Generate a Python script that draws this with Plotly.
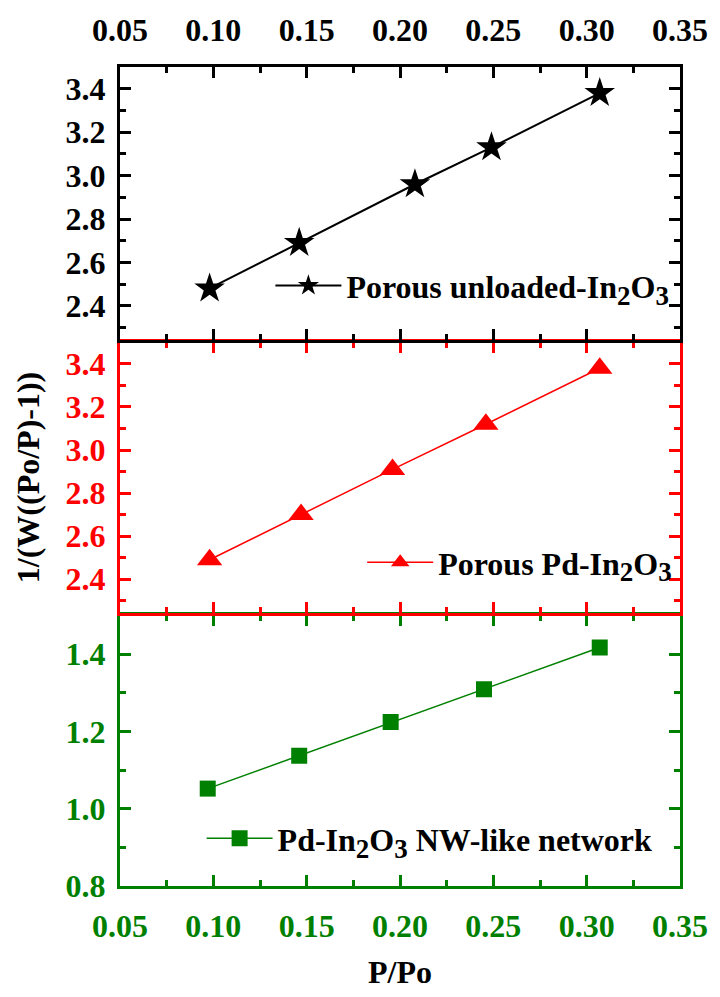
import plotly.graph_objects as go

# ---- data ----
x_unloaded = [0.098, 0.146, 0.208, 0.249, 0.307]
y_unloaded = [2.48, 2.69, 2.96, 3.13, 3.38]

x_pd = [0.098, 0.147, 0.196, 0.246, 0.307]
y_pd = [2.49, 2.70, 2.91, 3.12, 3.38]

x_nw = [0.097, 0.146, 0.195, 0.245, 0.307]
y_nw = [1.052, 1.137, 1.224, 1.309, 1.417]

SUB = '<sub><span style="font-size:27px">{}</span></sub>'
name_unloaded = "Porous unloaded-In" + SUB.format("2") + "O" + SUB.format("3")
name_pd = "Porous Pd-In" + SUB.format("2") + "O" + SUB.format("3")
name_nw = "Pd-In" + SUB.format("2") + "O" + SUB.format("3") + " NW-like network"

x_tickvals = [0.05, 0.10, 0.15, 0.20, 0.25, 0.30, 0.35]
x_ticktext = ["0.05", "0.10", "0.15", "0.20", "0.25", "0.30", "0.35"]

BLACK = "#000000"
RED = "#ff0000"
GREEN = "#008000"
FONT = "Liberation Serif"
FS = 32
LW = 3

fig = go.Figure()

# bottom panel (green) -> x/y, middle (red) -> x2/y2, top (black) -> x3/y3
fig.add_trace(go.Scatter(
    x=x_unloaded, y=y_unloaded, mode="lines+markers", name=name_unloaded,
    line=dict(color=BLACK, width=2),
    marker=dict(symbol="star", size=23, color=BLACK),
    xaxis="x3", yaxis="y3", legend="legend"))
fig.add_trace(go.Scatter(
    x=x_pd, y=y_pd, mode="lines+markers", name=name_pd,
    line=dict(color=RED, width=1.5),
    marker=dict(symbol="triangle-up", size=22, color=RED),
    xaxis="x2", yaxis="y2", legend="legend2"))
fig.add_trace(go.Scatter(
    x=x_nw, y=y_nw, mode="lines+markers", name=name_nw,
    line=dict(color=GREEN, width=1.5),
    marker=dict(symbol="square", size=16, color=GREEN),
    xaxis="x", yaxis="y", legend="legend3"))

TOT = 840.0
B1 = 279.0   # bottom/middle boundary (px from bottom of plot area)
B2 = 559.0   # middle/top boundary
h = LW / 2.0
d_bot = [0, (B1 - h) / TOT]
d_mid = [(B1 + h) / TOT, (B2 - h) / TOT]
d_top = [(B2 + h) / TOT, 1]


def xax(color, showlabels, side, anchor):
    return dict(
        range=[0.05, 0.35], tickvals=x_tickvals, ticktext=x_ticktext,
        showticklabels=showlabels, side=side, anchor=anchor,
        ticklabeloverflow="allow", ticklabelstandoff=10,
        showline=True, linecolor=color, linewidth=LW, mirror="allticks",
        ticks="inside", ticklen=11, tickwidth=2.5, tickcolor=color,
        minor=dict(ticks="inside", dtick=0.025, tick0=0.05, ticklen=6,
                   tickwidth=2.5, tickcolor=color),
        showgrid=False, zeroline=False,
        tickfont=dict(family=FONT, size=FS, color=color, weight="bold"),
    )


def yax(color, rng, dtick, domain, anchor):
    return dict(
        range=rng, dtick=dtick, tickformat=".1f", domain=domain, anchor=anchor,
        ticklabelstandoff=5,
        showline=True, linecolor=color, linewidth=LW, mirror="allticks",
        ticks="inside", ticklen=11, tickwidth=2.5, tickcolor=color,
        minor=dict(ticks="inside", dtick=dtick / 2, ticklen=6,
                   tickwidth=2.5, tickcolor=color),
        showgrid=False, zeroline=False,
        tickfont=dict(family=FONT, size=FS, color=color, weight="bold"),
    )


leg_font = dict(family=FONT, size=FS, color="black", weight="bold")

fig.update_layout(
    width=720, height=997,
    margin=dict(l=120, r=32, t=57, b=100),
    paper_bgcolor="white", plot_bgcolor="white",
    font=dict(family=FONT, size=FS, color="black", weight="bold"),
    xaxis=xax(GREEN, True, "bottom", "y"),
    xaxis2=xax(RED, False, "bottom", "y2"),
    xaxis3=xax(BLACK, True, "top", "y3"),
    yaxis=yax(GREEN, [0.8, 1.5], 0.2, d_bot, "x"),
    yaxis2=yax(RED, [2.245, 3.5], 0.2, d_mid, "x2"),
    yaxis3=yax(BLACK, [2.245, 3.5], 0.2, d_top, "x3"),
    legend=dict(x=0.99, y=0.733, xanchor="right", yanchor="middle",
                bgcolor="rgba(0,0,0,0)", itemwidth=66, font=leg_font),
    legend2=dict(x=0.995, y=0.395, xanchor="right", yanchor="middle",
                 bgcolor="rgba(0,0,0,0)", itemwidth=66, font=leg_font),
    legend3=dict(x=0.96, y=0.058, xanchor="right", yanchor="middle",
                 bgcolor="rgba(0,0,0,0)", itemwidth=66, font=leg_font),
    showlegend=True,
)
fig.update_layout(
    xaxis_title=dict(text="P/Po", font=leg_font, standoff=18),
    yaxis2_title=dict(text="1/(W((Po/P)-1))", font=leg_font, standoff=17),
)
fig.update_xaxes(matches="x")

fig.write_html("out.html")
